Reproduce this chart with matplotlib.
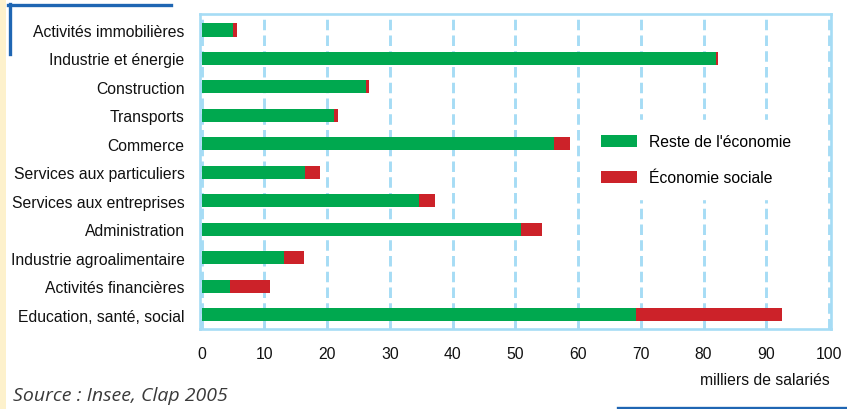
import matplotlib.pyplot as plt
from matplotlib.patches import Rectangle
from matplotlib.lines import Line2D

plt.rcParams['font.family'] = ['Liberation Sans', 'DejaVu Sans']

# données (milliers de salariés)
secteurs = ['Activités immobilières', 'Industrie et énergie', 'Construction', 'Transports',
            'Commerce', 'Services aux particuliers', 'Services aux entreprises',
            'Administration', 'Industrie agroalimentaire', 'Activités financières',
            'Education, santé, social']
reste = [5.0, 82.0, 26.2, 21.1, 56.2, 16.5, 34.7, 50.9, 13.1, 4.5, 69.2]
sociale = [0.7, 0.3, 0.5, 0.6, 2.5, 2.4, 2.5, 3.4, 3.3, 6.4, 23.3]
ticks_x = [0, 10, 20, 30, 40, 50, 60, 70, 80, 90, 100]

vert = '#00a84f'
rouge = '#cc2229'
bleu_clair = '#a6dcf5'

fig = plt.figure(figsize=(8.47, 4.10), dpi=100)
fig.patch.set_facecolor('white')
ax = fig.add_axes([200 / 847, 1 - 330 / 410, 631 / 847, 315 / 410])

y = list(range(len(secteurs)))
ax.barh(y, reste, height=0.46, color=vert, label="Reste de l'économie", zorder=3)
ax.barh(y, sociale, left=reste, height=0.46, color=rouge, label='Économie sociale', zorder=3)

ax.set_xlim(-0.24, 100.3)
ax.set_ylim(10.5, -0.56)
ax.set_xticks(ticks_x)
ax.set_yticks(y)
ax.set_yticklabels(secteurs, fontsize=11.3)
ax.tick_params(axis='both', length=0, labelsize=11.3, colors='#111111')
ax.tick_params(axis='y', pad=11)
ax.tick_params(axis='x', pad=12)

ax.grid(axis='x', color=bleu_clair, linestyle=(0, (3.6, 1.8)), linewidth=2.1, zorder=1)
for s in ax.spines.values():
    s.set_color(bleu_clair)
    s.set_linewidth(1.9)

leg = ax.legend(loc='upper left', bbox_to_anchor=(587 / 847, 1 - 121 / 410),
                bbox_transform=fig.transFigure, fontsize=11.3, frameon=True,
                facecolor='white', edgecolor='white', framealpha=1, fancybox=False,
                handlelength=2.3, handleheight=0.8, handletextpad=0.75,
                labelspacing=1.35, borderpad=0.9, borderaxespad=0)
leg.set_zorder(2)

fig.text(830 / 847, 1 - 381 / 410, 'milliers de salariés', ha='right', va='center',
         fontsize=11.3, color='#111111')
fig.text(13 / 847, 1 - 396 / 410, 'Source : Insee, Clap 2005', ha='left', va='center',
         fontsize=14, style='italic', color='#3a3a3a', family=['Open Sans', 'DejaVu Sans'])

# décor : bande jaune et filets bleus
fig.add_artist(Rectangle((0, 0), 6 / 847, 1, transform=fig.transFigure,
                         color='#fdf1cc', lw=0))
fig.add_artist(Line2D([8 / 847, 171 / 847], [1 - 5.5 / 410, 1 - 5.5 / 410],
                      transform=fig.transFigure, color='#1f66b3', lw=2.4))
fig.add_artist(Line2D([9.5 / 847, 9.5 / 847], [1 - 5 / 410, 1 - 55 / 410],
                      transform=fig.transFigure, color='#1f66b3', lw=2.4))
fig.add_artist(Line2D([618 / 847, 1], [1 - 409 / 410, 1 - 409 / 410],
                      transform=fig.transFigure, color='#1f66b3', lw=2.4))

fig.savefig('out.png', dpi=100)
